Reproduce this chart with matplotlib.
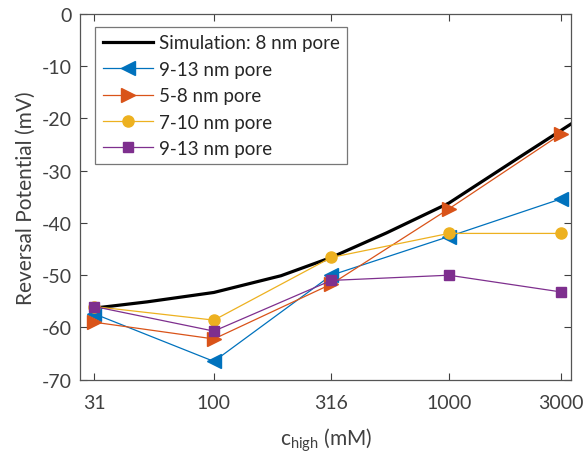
import numpy as np
import matplotlib.pyplot as plt

plt.rcParams['font.family'] = ['Lato', 'DejaVu Sans']
plt.rcParams['mathtext.fontset'] = 'custom'
plt.rcParams['mathtext.rm'] = 'Lato'
plt.rcParams['mathtext.it'] = 'Lato'
plt.rcParams['axes.unicode_minus'] = False

# данные
conc = [31, 100, 316, 1000, 3000]
sim_conc = [31, 52, 100, 193, 316, 543, 1000, 2000, 3300]
sim_v = [-56.3, -55.1, -53.3, -50.1, -46.6, -41.9, -36.2, -27.4, -21.1]
pore_9_13_a = [-57.4, -66.5, -50.0, -42.6, -35.4]
pore_5_8 = [-59.0, -62.2, -51.7, -37.3, -23.0]
pore_7_10 = [-56.0, -58.6, -46.6, -42.0, -42.0]
pore_9_13_b = [-56.0, -60.7, -51.0, -50.0, -53.2]
tick_labels = ['31', '100', '316', '1000', '3000']

txt = '#404040'
fig = plt.figure(figsize=(5.88, 4.6), dpi=100)
ax = fig.add_axes([0.1366, 0.1724, 0.8344, 0.795])

ax.plot(sim_conc, sim_v, color='black', lw=2.3, label='Simulation: 8 nm pore')
ax.plot(conc, pore_9_13_a, color='#0072BD', lw=0.9, marker='<', ms=10, label='9-13 nm pore')
ax.plot(conc, pore_5_8, color='#D95319', lw=0.9, marker='>', ms=10, label='5-8 nm pore')
ax.plot(conc, pore_7_10, color='#EDB120', lw=0.9, marker='o', ms=8, label='7-10 nm pore')
ax.plot(conc, pore_9_13_b, color='#7E2F8E', lw=0.9, marker='s', ms=6.5, label='9-13 nm pore')

ax.set_xscale('log')
ax.set_xlim(27, 3310)
ax.set_ylim(-70, 0)
ax.set_xticks(conc)
ax.set_xticklabels(tick_labels)
ax.minorticks_off()
ax.set_yticks(np.arange(-70, 1, 10))

ax.tick_params(direction='in', top=True, right=True, length=5, width=0.8,
               colors=txt, labelsize=14)
ax.tick_params(axis='x', pad=10)
ax.tick_params(axis='y', pad=6)
for s in ax.spines.values():
    s.set_color('#555555')
    s.set_linewidth(0.9)

ax.set_xlabel(r'c$_{\mathrm{high}}$ (mM)', fontsize=15, color=txt, labelpad=11)
ax.set_ylabel('Reversal Potential (mV)', fontsize=15, color=txt, labelpad=4)

leg = ax.legend(loc='upper left', fontsize=13.5, handlelength=2.7, handletextpad=0.3,
                labelspacing=0.5, borderpad=0.4, fancybox=False,
                bbox_to_anchor=(0.030, 0.9645), borderaxespad=0)
leg.get_frame().set_edgecolor('#555555')
leg.get_frame().set_linewidth(0.9)
for t in leg.get_texts():
    t.set_color('#262626')

fig.savefig('out.png', dpi=100)
